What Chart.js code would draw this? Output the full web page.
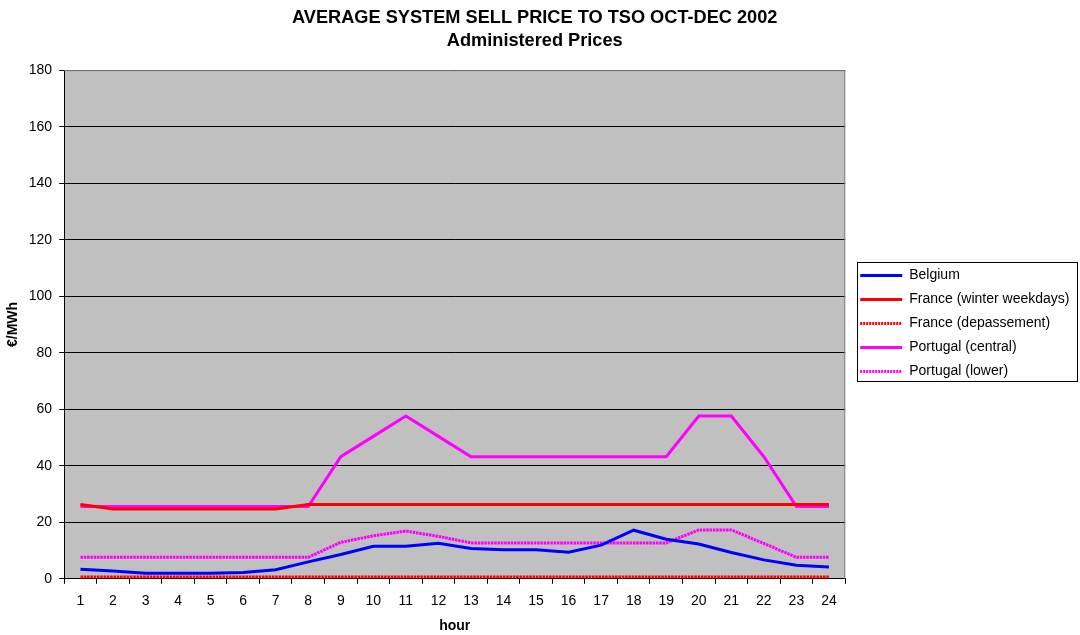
<!DOCTYPE html>
<html>
<head>
<meta charset="utf-8">
<script src="https://cdn.jsdelivr.net/npm/chart.js@4/dist/chart.umd.min.js"></script>
<style>
  html, body { margin: 0; padding: 0; background: #ffffff; }
  #wrap { width: 1080px; height: 635px; position: relative; }
</style>
</head>
<body>
<div id="wrap"><canvas id="chart" width="1080" height="635"></canvas></div>
<script>
// Hour of day labels
const hours = ['1','2','3','4','5','6','7','8','9','10','11','12','13','14','15','16','17','18','19','20','21','22','23','24'];

// Average system sell price, €/MWh
const belgium = [3.4, 2.8, 2.0, 2.0, 2.0, 2.2, 3.2, 6.0, 8.6, 11.5, 11.5, 12.6, 10.7, 10.3, 10.3, 9.4, 11.9, 17.2, 14.0, 12.3, 9.3, 6.7, 4.8, 4.2];
const franceWinterWeekdays = [26.3, 24.7, 24.7, 24.7, 24.7, 24.7, 24.7, 26.3, 26.3, 26.3, 26.3, 26.3, 26.3, 26.3, 26.3, 26.3, 26.3, 26.3, 26.3, 26.3, 26.3, 26.3, 26.3, 26.3];
const franceDepassement = [0.6, 0.6, 0.6, 0.6, 0.6, 0.6, 0.6, 0.6, 0.6, 0.6, 0.6, 0.6, 0.6, 0.6, 0.6, 0.6, 0.6, 0.6, 0.6, 0.6, 0.6, 0.6, 0.6, 0.6];
const portugalCentral = [25.6, 25.6, 25.6, 25.6, 25.6, 25.6, 25.6, 25.6, 43.2, 50.4, 57.6, 50.4, 43.2, 43.2, 43.2, 43.2, 43.2, 43.2, 43.2, 57.6, 57.6, 43.2, 25.6, 25.6];
const portugalLower = [7.6, 7.6, 7.6, 7.6, 7.6, 7.6, 7.6, 7.6, 12.9, 15.2, 16.9, 15.0, 12.7, 12.7, 12.7, 12.7, 12.7, 12.7, 12.7, 17.3, 17.3, 12.5, 7.6, 7.6];

const FONT = '"Liberation Sans", Arial, sans-serif';
const LEGEND_PAD = 10;

// Grey plot area with a darker frame on top and right
const plotBackground = {
  id: 'plotBackground',
  beforeDraw(chart) {
    const { ctx, chartArea: a } = chart;
    ctx.save();
    ctx.fillStyle = '#C0C0C0';
    ctx.fillRect(a.left, a.top, a.right - a.left, a.bottom - a.top);
    ctx.restore();
  },
  afterDatasetsDraw(chart) {
    const { ctx, chartArea: a } = chart;
    ctx.save();
    ctx.strokeStyle = '#808080';
    ctx.lineWidth = 1;
    ctx.beginPath();
    ctx.moveTo(a.left, a.top + 0.5);
    ctx.lineTo(a.right - 0.5, a.top + 0.5);
    ctx.lineTo(a.right - 0.5, a.bottom);
    ctx.stroke();
    ctx.restore();
  }
};

// Legend: vertically centred on the plot, nudged right, with a black frame;
// title centred slightly left of the page centre
const legendFrame = {
  id: 'legendFrame',
  afterLayout(chart) {
    const lg = chart.legend;
    const a = chart.chartArea;
    if (lg) {
      lg.left += 5;
      lg.right += 5;
      lg.top = a.top - 1;
      lg.bottom = a.bottom - 1;
      lg.height = a.bottom - a.top;
    }
    if (chart.titleBlock) {
      chart.titleBlock.left -= 5;
      chart.titleBlock.right -= 5;
    }
  },
  afterDraw(chart) {
    const lg = chart.legend;
    if (!lg || !lg.legendItems || !lg.legendItems.length) return;
    const n = lg.legendItems.length;
    const itemH = lg.options.labels.font.size;
    const colH = n * (itemH + LEGEND_PAD);
    const y0 = ((lg.top + LEGEND_PAD) + (lg.bottom - colH)) / 2;
    const firstMid = y0 + itemH / 2;
    const lastMid = firstMid + (n - 1) * (itemH + LEGEND_PAD);
    const top = Math.round(firstMid) - 13;
    const bottom = Math.round(lastMid) + 10;
    const ctx = chart.ctx;
    ctx.save();
    ctx.strokeStyle = '#000000';
    ctx.lineWidth = 1;
    ctx.strokeRect(857.5, top + 0.5, 220, bottom - top);
    ctx.restore();
  }
};

function series(label, data, color, dotted) {
  return {
    label,
    data,
    borderColor: color,
    backgroundColor: color,
    borderWidth: 3,
    borderDash: dotted ? [2.6, 0.7] : [],
    pointRadius: 0,
    pointHoverRadius: 0,
    tension: 0,
    fill: false,
    dotted
  };
}

// Pale dots laid over a line give it the chain-of-circles look
function dots(data) {
  return {
    label: '',
    data,
    borderColor: '#FFFFFF',
    borderWidth: 1.2,
    borderDash: [1.1, 2.2],
    pointRadius: 0,
    pointHoverRadius: 0,
    tension: 0,
    fill: false,
    overlay: true
  };
}

new Chart(document.getElementById('chart'), {
  type: 'line',
  data: {
    labels: hours,
    datasets: [
      series('Belgium', belgium, '#0000FF', false),
      series('France (winter weekdays)', franceWinterWeekdays, '#FF0000', false),
      series('France (depassement)', franceDepassement, '#FF0000', true),
      series('Portugal (central)', portugalCentral, '#FF00FF', false),
      series('Portugal (lower)', portugalLower, '#FF00FF', true),
      dots(franceDepassement),
      dots(portugalLower)
    ]
  },
  options: {
    responsive: false,
    animation: false,
    devicePixelRatio: 1,
    layout: { padding: { left: 5, right: 5.5, top: 0, bottom: 1 } },
    plugins: {
      title: {
        display: true,
        text: ['AVERAGE SYSTEM SELL PRICE TO TSO OCT-DEC 2002', 'Administered Prices'],
        color: '#000000',
        font: { family: FONT, size: 18.2, weight: 'bold', lineHeight: 1.24 },
        padding: { top: 7, bottom: 18 }
      },
      legend: {
        position: 'right',
        labels: {
          color: '#000000',
          font: { family: FONT, size: 14 },
          usePointStyle: true,
          pointStyle: 'line',
          pointStyleWidth: 42,
          boxWidth: 42,
          padding: LEGEND_PAD,
          generateLabels(chart) {
            return chart.data.datasets
              .map((ds, i) => ({ ds, i }))
              .filter(({ ds }) => !ds.overlay)
              .map(({ ds, i }) => ({
                text: ds.label,
                datasetIndex: i,
                fillStyle: ds.borderColor,
                strokeStyle: ds.borderColor,
                fontColor: '#000000',
                lineWidth: 3,
                lineDash: ds.dotted ? [2, 1] : [],
                pointStyle: 'line',
                hidden: !chart.isDatasetVisible(i)
              }));
          }
        }
      },
      tooltip: { enabled: false }
    },
    scales: {
      x: {
        type: 'category',
        offset: true,
        grid: {
          offset: true,
          drawOnChartArea: false,
          drawTicks: true,
          tickLength: 5,
          color: '#000000'
        },
        border: { color: '#000000', width: 1 },
        ticks: { color: '#000000', font: { family: FONT, size: 14 }, padding: 9, maxRotation: 0 },
        title: { display: true, text: 'hour', color: '#000000', font: { family: FONT, size: 14, weight: 'bold', lineHeight: 1.1 }, padding: { top: 0, bottom: 0 } }
      },
      y: {
        min: 0,
        max: 180,
        ticks: { stepSize: 20, color: '#000000', font: { family: FONT, size: 14 }, padding: 7 },
        grid: { color: '#000000', tickLength: 5, drawTicks: true },
        border: { color: '#000000', width: 1 },
        title: { display: true, text: '€/MWh', color: '#000000', font: { family: FONT, size: 14, weight: 'bold' }, padding: { top: 0, bottom: 0 } }
      }
    }
  },
  plugins: [plotBackground, legendFrame]
});
</script>
</body>
</html>
